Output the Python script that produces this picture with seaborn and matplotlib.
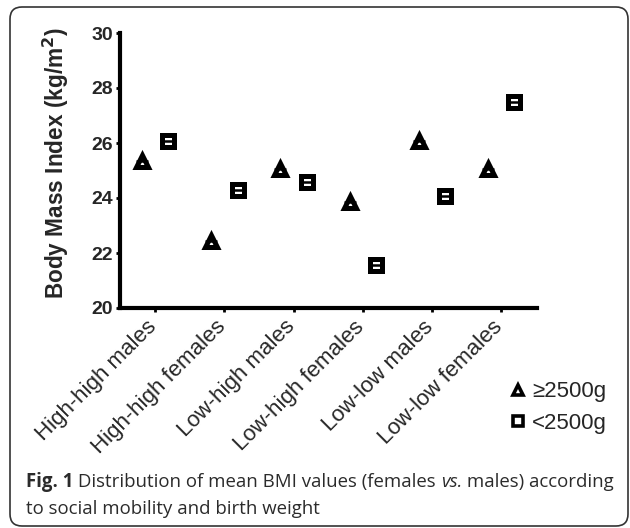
import numpy as np
import pandas as pd
from matplotlib import pyplot as plt
from matplotlib.lines import Line2D
from matplotlib.patches import FancyBboxPatch
from matplotlib.transforms import ScaledTranslation
import seaborn as sns

# Mean BMI per social mobility group, split by birth weight
groups = ['High-high males', 'High-high females', 'Low-high males',
          'Low-high females', 'Low-low males', 'Low-low females']
bmi_ge2500 = [25.35, 22.45, 25.05, 23.85, 26.07, 25.05]
bmi_lt2500 = [26.08, 24.29, 24.60, 21.56, 24.07, 27.50]
weight_labels = ['\u22652500g', '<2500g']

df = pd.DataFrame({
    'group': groups * 2,
    'bmi': bmi_ge2500 + bmi_lt2500,
    'weight': [weight_labels[0]] * len(groups) + [weight_labels[1]] * len(groups),
})

sns.set_style('white')
plt.rcParams['font.family'] = ['Liberation Sans', 'DejaVu Sans']

fig = plt.figure(figsize=(6.3, 5.28), dpi=100)
ax = fig.add_axes([120 / 630, 1 - 308 / 528, (537 - 120) / 630, (308 - 33) / 528])

# open markers with a thick edge
sns.pointplot(data=df, x='group', y='bmi', hue='weight', order=groups,
              hue_order=weight_labels, markers=['^', 's'], linestyle='none',
              palette=['black', 'black'], dodge=0.38, errorbar=None,
              markersize=8, markeredgewidth=3.6, ax=ax, legend=False)
for line in ax.lines:
    line.set_markerfacecolor('white')
    line.set_markeredgecolor('black')
# small error bar caps through the middle
sns.pointplot(data=df, x='group', y='bmi', hue='weight', order=groups,
              hue_order=weight_labels, markers=['_', '_'], linestyle='none',
              palette=['black', 'black'], dodge=0.38, errorbar=None,
              markersize=8, markeredgewidth=1.8, ax=ax, legend=False)

ax.set_ylim(20, 30)
ax.set_xlim(-0.51, 5.52)
ax.set_yticks([20, 22, 24, 26, 28, 30])
ax.set_xlabel('')
ax.set_ylabel('Body Mass Index (kg/m$^\\mathbf{2}$)', fontsize=16.3, fontweight='bold')
ax.yaxis.set_label_coords(-0.118, 0.525)
for s in ['top', 'right']:
    ax.spines[s].set_visible(False)
for s in ['left', 'bottom']:
    ax.spines[s].set_linewidth(3)
    ax.spines[s].set_color('black')
ax.tick_params(axis='both', which='major', length=3, width=2, color='black',
               direction='out', bottom=True, left=True)
ax.tick_params(axis='y', labelsize=14, pad=2)
for t in ax.get_yticklabels():
    t.set_fontweight('bold')
ax.set_xticks(range(len(groups)))
ax.set_xticklabels(groups, rotation=45, ha='right', va='top', fontsize=16)
ax.tick_params(axis='x', pad=3)
shift = ScaledTranslation(6 / 100, 0, fig.dpi_scale_trans)
for t in ax.get_xticklabels():
    t.set_transform(t.get_transform() + shift)

# legend below the right end
handles = [
    Line2D([], [], marker='^', linestyle='none', markerfacecolor='white',
           markeredgecolor='black', markeredgewidth=2.6, markersize=7),
    Line2D([], [], marker='s', linestyle='none', markerfacecolor='white',
           markeredgecolor='black', markeredgewidth=2.6, markersize=7),
]
fig.legend(handles, weight_labels, loc='center left', bbox_to_anchor=(510 / 630, 1 - 407.5 / 528),
           frameon=False, fontsize=16, handlelength=0.7, handletextpad=0.3,
           labelspacing=0.45, borderaxespad=0, borderpad=0)

# rounded frame around figure and caption
frame = FancyBboxPatch((0.10, 0.02), 6.18, 5.19, boxstyle='round,pad=0,rounding_size=0.12',
                       transform=fig.dpi_scale_trans, facecolor='none',
                       edgecolor='#333333', linewidth=1.2)
fig.patches.append(frame)

# caption in pieces: bold, regular, italic
cap_font = ['Open Sans', 'DejaVu Sans']
pieces = [('Fig. 1', 'bold', 'normal'),
          (' Distribution of mean BMI values (females ', 'normal', 'normal'),
          ('vs.', 'normal', 'italic'),
          (' males) according', 'normal', 'normal')]
fig.canvas.draw()
renderer = fig.canvas.get_renderer()
x = 26
for txt, w, st in pieces:
    t = fig.text(x / 630, 1 - 487 / 528, txt, fontsize=13.4, fontweight=w, fontstyle=st,
                 family=cap_font, va='baseline', ha='left', color='#2b2b2b')
    x += t.get_window_extent(renderer).width
fig.text(26 / 630, 1 - 514 / 528, 'to social mobility and birth weight', fontsize=13.4,
         family=cap_font, va='baseline', ha='left', color='#2b2b2b')

fig.savefig('out.png', dpi=100)
